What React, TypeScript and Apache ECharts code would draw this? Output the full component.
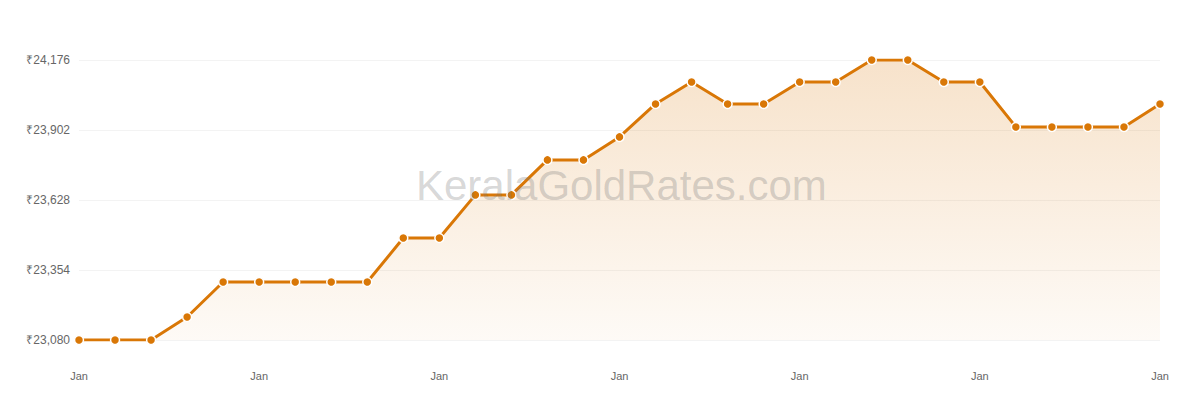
import { useEffect, useRef } from 'react'
import * as echarts from 'echarts'

// 31 daily points, axis labels only every 5th day
const days: string[] = Array(31).fill('Jan')

const prices: number[] = [
  23080, 23080, 23080, 23170, 23307, 23307, 23307, 23307, 23307, 23479,
  23479, 23648, 23648, 23785, 23785, 23875, 24004, 24090, 24004, 24004,
  24090, 24090, 24176, 24176, 24090, 24090, 23914, 23914, 23914, 23914,
  24004,
]

const yMin = 23080
const yMax = 24176
const yStep = 274

const ORANGE = '#d97706'

function formatRupee(v: number) {
  return '₹' + v.toLocaleString('en-IN')
}

export default function App() {
  const chartRef = useRef<HTMLDivElement>(null)

  useEffect(() => {
    if (!chartRef.current) return
    document.body.style.margin = '0'

    const chart = echarts.init(chartRef.current, null, { renderer: 'svg' })

    const option: echarts.EChartsOption = {
      animation: false,
      backgroundColor: '#ffffff',
      textStyle: { fontFamily: 'Liberation Sans, Arial, sans-serif' },
      grid: { left: 79, right: 40, top: 60, bottom: 60, containLabel: false },
      graphic: [
        {
          type: 'text',
          left: 416,
          top: 164,
          z: 100,
          style: {
            text: 'KeralaGoldRates.com',
            fontSize: 42,
            fontFamily: 'Liberation Sans, Arial, sans-serif',
            fill: 'rgba(120,120,120,0.3)',
          },
        },
      ],
      xAxis: {
        type: 'category',
        data: days,
        boundaryGap: false,
        axisLine: { show: false },
        axisTick: { show: false },
        splitLine: { show: false },
        axisLabel: {
          interval: 4,
          color: '#666',
          fontSize: 11,
          margin: 30,
        },
      },
      yAxis: {
        type: 'value',
        min: yMin,
        max: yMax,
        interval: yStep,
        axisLine: { show: false },
        axisTick: { show: false },
        axisLabel: {
          color: '#666',
          fontSize: 12,
          margin: 9,
          formatter: (v: number) => formatRupee(v),
        },
        splitLine: { lineStyle: { color: '#f3f3f3', width: 1 } },
      },
      series: [
        {
          type: 'line',
          data: prices,
          symbol: 'circle',
          symbolSize: 9,
          showAllSymbol: true,
          lineStyle: { color: ORANGE, width: 3 },
          itemStyle: { color: ORANGE, borderColor: '#ffffff', borderWidth: 1.5 },
          areaStyle: {
            color: new echarts.graphic.LinearGradient(0, 0, 0, 1, [
              { offset: 0, color: 'rgba(217,119,6,0.3)' },
              { offset: 1, color: 'rgba(217,119,6,0.05)' },
            ]),
          },
        },
      ],
    }

    chart.setOption(option)

    return () => {
      chart.dispose()
    }
  }, [])

  return <div ref={chartRef} style={{ width: 1200, height: 400 }} />
}
